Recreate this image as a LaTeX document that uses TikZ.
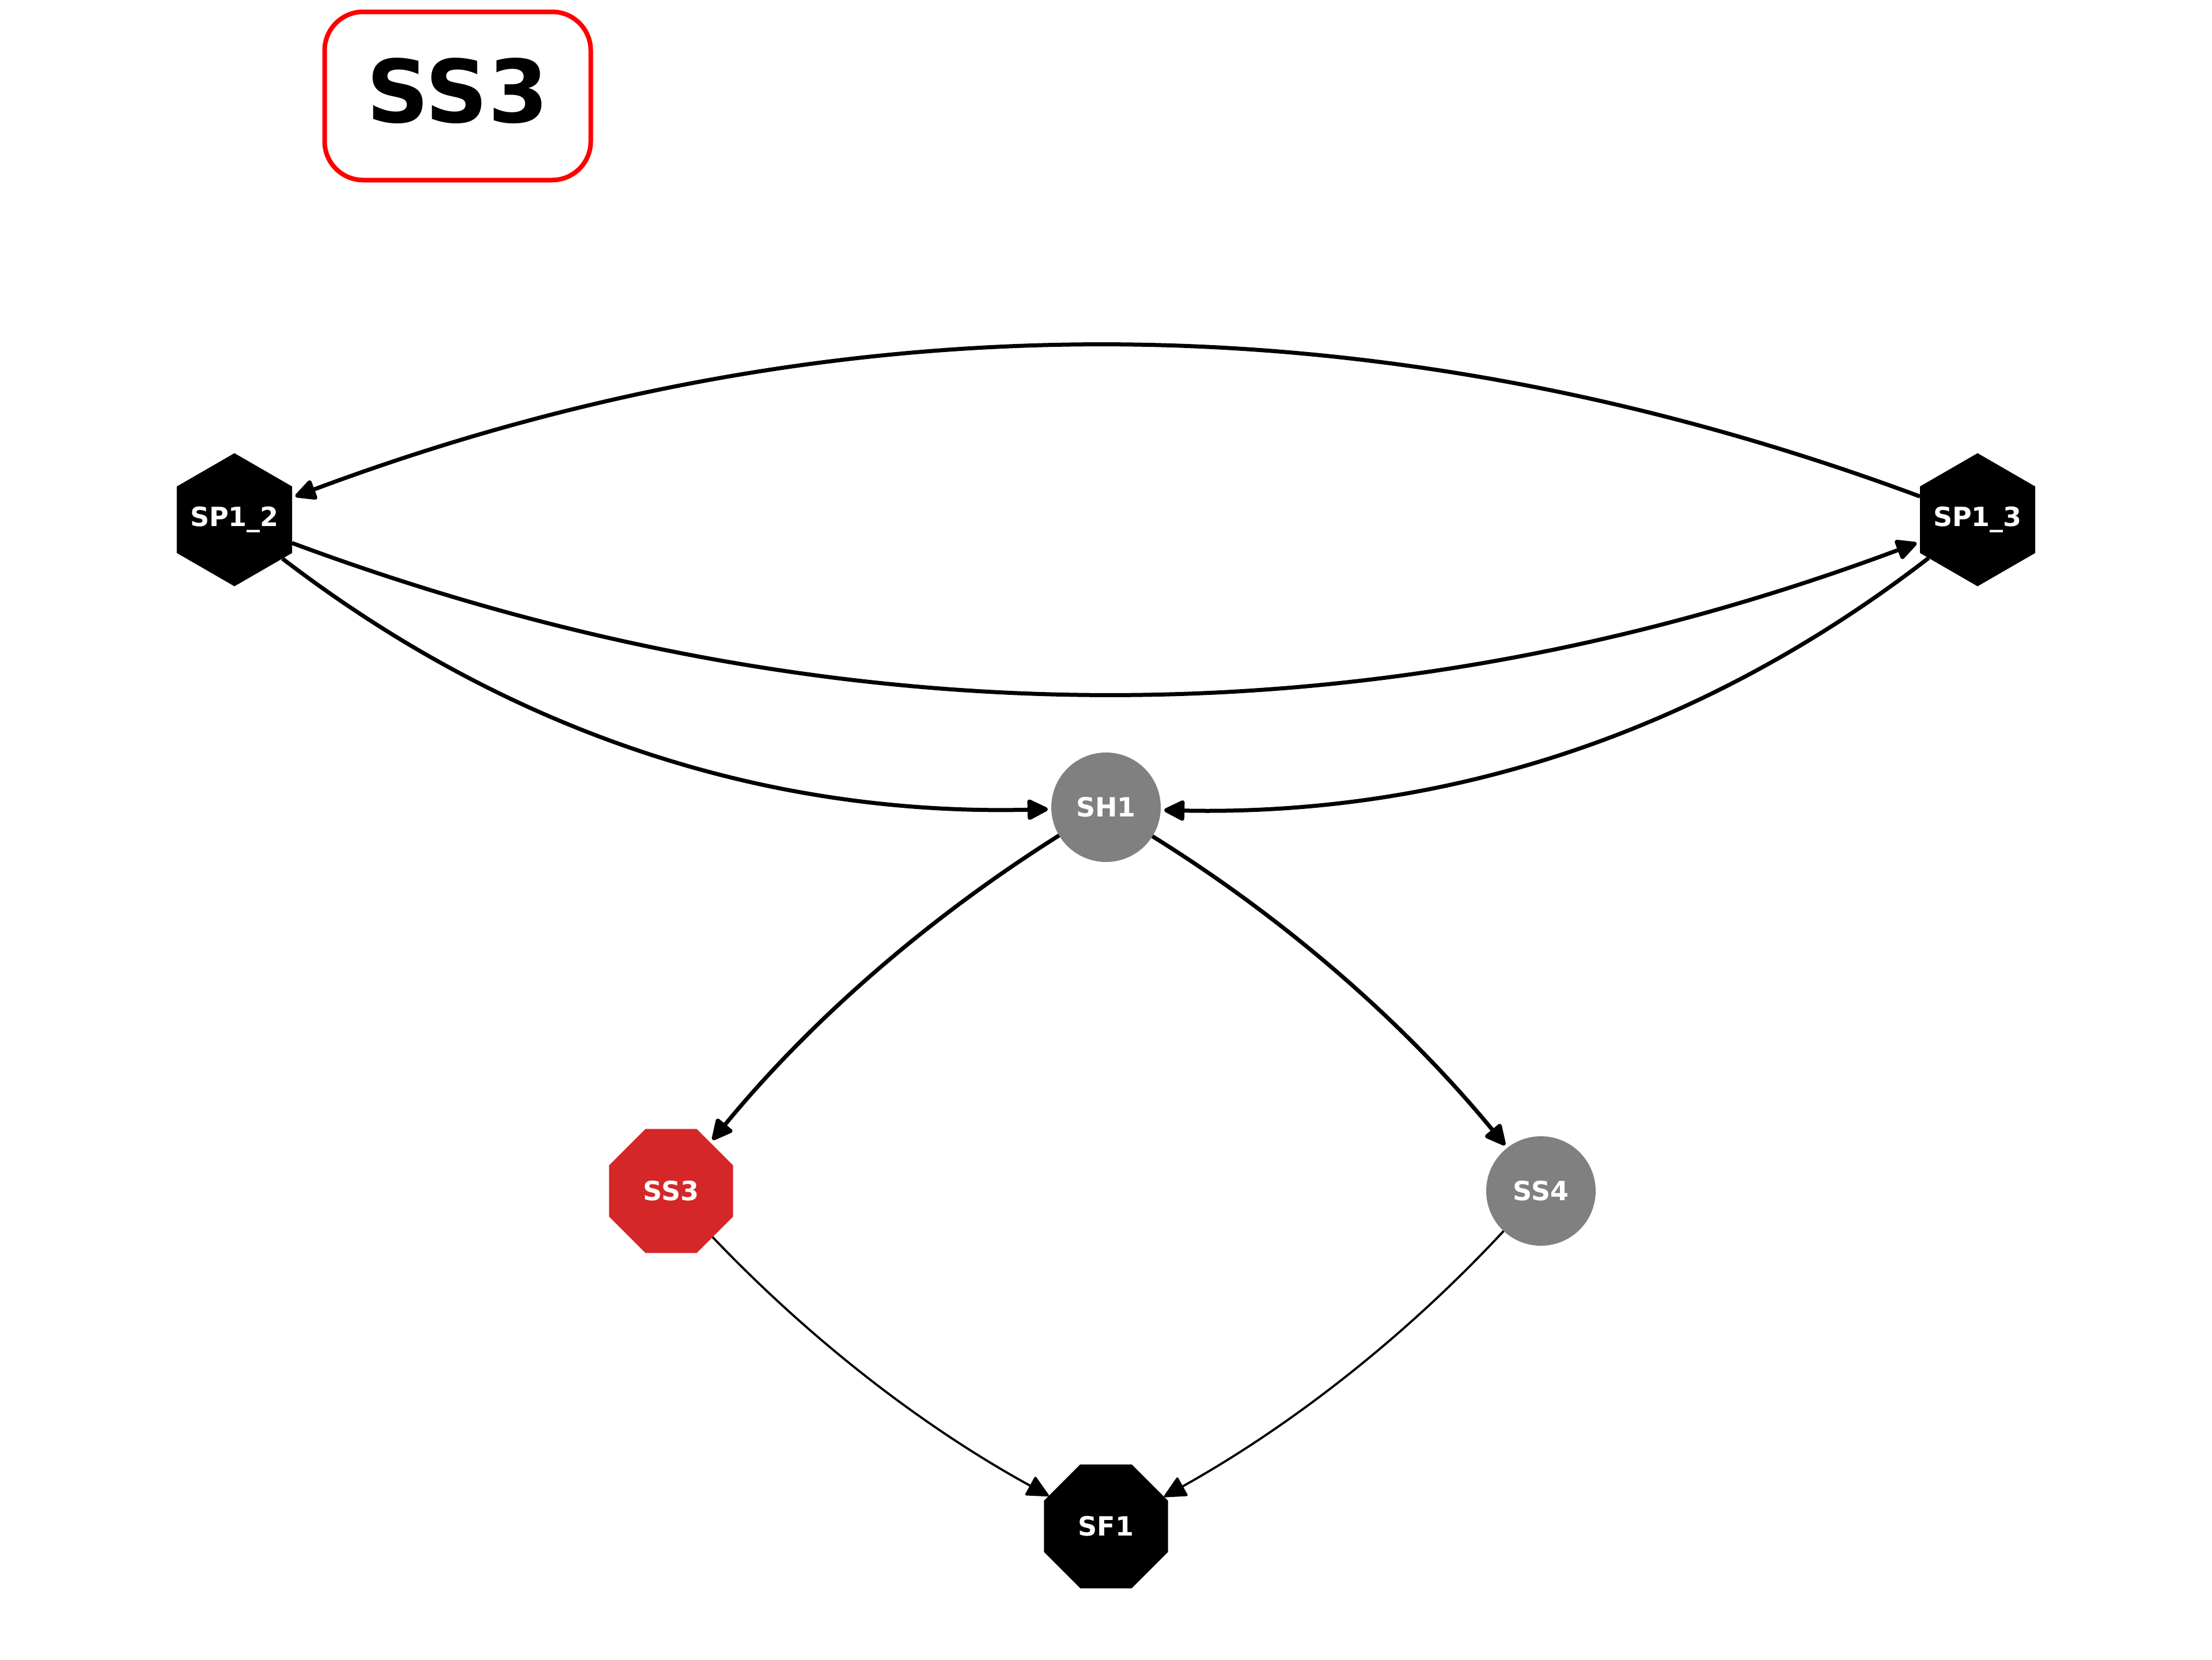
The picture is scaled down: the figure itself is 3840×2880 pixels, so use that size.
\documentclass[tikz,border=0pt]{standalone}
\usepackage{fontspec}
\setmainfont{DejaVu Sans}
\usetikzlibrary{arrows.meta,shapes.geometric}
\definecolor{tabred}{RGB}{214,39,40}
\definecolor{nodegray}{RGB}{128,128,128}
\begin{document}
\begin{tikzpicture}[x=0.25pt,y=-0.25pt,
  lbl/.style={text=white,font=\bfseries\fontsize{11.5}{12}\selectfont},
  hexnode/.style={regular polygon,regular polygon sides=6,shape border rotate=30,
    fill=black,minimum size=57.75pt,inner sep=0pt,outer sep=0pt,lbl},
  octnode/.style={regular polygon,regular polygon sides=8,
    minimum size=58.2pt,inner sep=0pt,outer sep=0pt,lbl},
  circnode/.style={circle,fill=nodegray,minimum size=47.5pt,inner sep=0pt,outer sep=0pt,lbl},
  edgethick/.style={-{Triangle[length=10pt,width=9.5pt,round]},line width=1.75pt,shorten >=1.5pt},
  edgethin/.style={-{Triangle[length=10pt,width=9.5pt,round]},line width=0.95pt},
  titlebox/.style={draw=red,line width=2pt,rounded corners=16.75pt,
    minimum width=115.5pt,minimum height=73pt,inner sep=0pt,
    text depth=4.8pt,font=\bfseries\fontsize{37.7}{40}\selectfont}
]
\useasboundingbox (0,0) rectangle (3840,2880);

\node[titlebox] (title) at (794.5,166.5) {SS3};

\node[hexnode] (sp12) at (407,902) {\makebox[0pt]{SP1\_2}};
\node[hexnode] (sp13) at (3433,902) {\makebox[0pt]{SP1\_3}};
\node[circnode] (sh1) at (1920,1401) {SH1};
\node[octnode,fill=tabred] (ss3) at (1165,2067) {SS3};
\node[circnode] (ss4) at (2675,2067) {SS4};
\node[octnode,fill=black] (sf1) at (1920,2649) {SF1};

\draw[edgethick] (sp13.158.86) .. controls (2391,511.6) and (1449,511.6) .. (sp12.21.14);
\draw[edgethick] (sp12.338.86) .. controls (1449,1292.4) and (2391,1292.4) .. (sp13.201.14);
\draw[edgethick] (sp12.321.2) .. controls (883.8,1271.1) and (1328.6,1416.3) .. (sh1.182.4);
\draw[edgethick] (sp13.218.8) .. controls (2956.2,1271.1) and (2511.4,1416.3) .. (sh1.357.6);
\draw[edgethick] (sh1.211.1) .. controls (1608.0,1595.2) and (1405.9,1772.5) .. (ss3.51.6);
\draw[edgethick] (sh1.328.9) .. controls (2235.7,1597.5) and (2440.6,1778.3) .. (ss4.128.3);
\draw[edgethin] (ss3.312.3) .. controls (1408.5,2326.7) and (1602.8,2476.8) .. (sf1.152.4);
\draw[edgethin] (ss4.227.85) .. controls (2438.0,2321.6) and (2240.9,2474.7) .. (sf1.27.6);
\end{tikzpicture}
\end{document}
